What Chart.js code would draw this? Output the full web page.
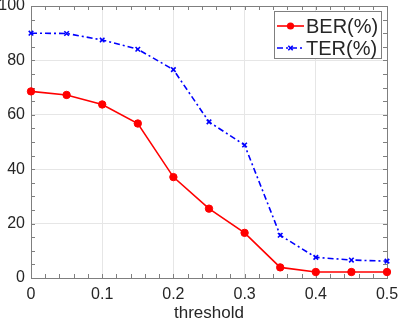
<!DOCTYPE html>
<html><head><meta charset="utf-8">
<script src="https://cdn.jsdelivr.net/npm/chart.js@4/dist/chart.umd.min.js"></script>
<style>html,body{margin:0;padding:0;background:#fff;}#wrap{width:399px;height:322px;}</style>
</head><body><div id="wrap"><canvas id="c" width="399" height="322"></canvas></div>
<script>
const thresholds = [0, 0.05, 0.1, 0.15, 0.2, 0.25, 0.3, 0.35, 0.4, 0.45, 0.5];
const berValues = [68.6, 67.3, 63.8, 56.8, 37.1, 25.5, 16.6, 3.9, 2.2, 2.2, 2.2];
const terValues = [90.0, 89.9, 87.5, 84.1, 76.6, 57.4, 48.9, 15.7, 7.6, 6.6, 6.2];
const seriesNames = ['BER(%)', 'TER(%)'];
const xTicks = [0, 0.1, 0.2, 0.3, 0.4, 0.5];
const yTicks = [0, 20, 40, 60, 80, 100];
const xLabel = 'threshold';

const FONT = '"Liberation Sans", Arial, sans-serif';
const TXT = '#262626';
const AX = '#7f7f7f';

const boxAndTicks = {
  id: 'boxAndTicks',
  beforeDatasetsDraw(chart) {
    const {ctx, chartArea: a, scales: {x, y}} = chart;
    ctx.save();
    ctx.strokeStyle = AX;
    ctx.lineWidth = 1;
    ctx.strokeRect(a.left + 0.5, a.top + 0.5, a.right - a.left, a.bottom - a.top);
    const L = 4;
    ctx.beginPath();
    for (let v = 0; v <= 100.001; v += 5) {
      const py = Math.round(y.getPixelForValue(v)) + 0.5;
      ctx.moveTo(a.left, py); ctx.lineTo(a.left + L, py);
      ctx.moveTo(a.right, py); ctx.lineTo(a.right - L, py);
    }
    for (let i = 0; i <= 25; i++) {
      const px = Math.round(x.getPixelForValue(i * 0.02)) + 0.5;
      ctx.moveTo(px, a.bottom); ctx.lineTo(px, a.bottom - L);
      ctx.moveTo(px, a.top); ctx.lineTo(px, a.top + L);
    }
    ctx.stroke();
    ctx.restore();
  },
  afterDatasetsDraw(chart) {
    const {ctx} = chart;
    const bx = 274.5, by = 11.5, bw = 107, bh = 47;
    ctx.save();
    ctx.fillStyle = '#fff';
    ctx.fillRect(bx, by, bw, bh);
    ctx.strokeStyle = AX;
    ctx.lineWidth = 1;
    ctx.strokeRect(bx, by, bw, bh);
    chart.data.datasets.forEach((ds, i) => {
      const cy = 26 + i * 22;
      ctx.strokeStyle = ds.borderColor;
      ctx.lineWidth = ds.borderWidth;
      ctx.setLineDash(ds.borderDash || []);
      ctx.beginPath(); ctx.moveTo(277, cy); ctx.lineTo(304, cy); ctx.stroke();
      ctx.setLineDash([]);
      ctx.fillStyle = ds.pointBackgroundColor;
      ctx.strokeStyle = ds.pointBorderColor;
      ctx.lineWidth = ds.pointBorderWidth;
      if (ds.pointStyle === 'circle') {
        ctx.beginPath(); ctx.arc(290.5, cy, 3.6, 0, Math.PI * 2); ctx.fill();
      } else {
        const r = 2.2;
        ctx.beginPath();
        ctx.moveTo(290.5 - r, cy - r); ctx.lineTo(290.5 + r, cy + r);
        ctx.moveTo(290.5 + r, cy - r); ctx.lineTo(290.5 - r, cy + r);
        ctx.stroke();
      }
      ctx.fillStyle = TXT;
      ctx.font = '20px ' + FONT;
      ctx.textBaseline = 'middle';
      ctx.textAlign = 'left';
      ctx.fillText(seriesNames[i], 306, cy + 1);
    });
    ctx.restore();
  }
};

new Chart(document.getElementById('c'), {
  type: 'line',
  data: {
    datasets: [
      {
        label: seriesNames[0],
        data: thresholds.map((t, i) => ({x: t, y: berValues[i]})),
        borderColor: '#ff0000', backgroundColor: '#ff0000',
        borderWidth: 1.6, pointStyle: 'circle', pointRadius: 3.7,
        pointBackgroundColor: '#ff0000', pointBorderColor: '#ff0000', pointBorderWidth: 1,
        tension: 0, clip: false
      },
      {
        label: seriesNames[1],
        data: thresholds.map((t, i) => ({x: t, y: terValues[i]})),
        borderColor: '#0000ff', backgroundColor: '#0000ff',
        borderWidth: 1.6, borderDash: [6, 3, 2, 3], pointStyle: 'crossRot', pointRadius: 3.2,
        pointBackgroundColor: '#0000ff', pointBorderColor: '#0000ff', pointBorderWidth: 1.6,
        tension: 0, clip: false
      }
    ]
  },
  options: {
    responsive: false, animation: false, devicePixelRatio: 1,
    layout: {padding: {left: 0, right: 12, top: 6, bottom: 0}},
    plugins: {legend: {display: false}, tooltip: {enabled: false}},
    scales: {
      x: {
        type: 'linear', min: 0, max: 0.5,
        afterBuildTicks(s) { s.ticks = xTicks.map(v => ({value: v})); },
        afterFit(s) { s.height = 44; s.paddingLeft = 0; s.paddingRight = 0; },
        grid: {color: '#e6e6e6', drawTicks: false},
        border: {display: false},
        ticks: {color: TXT, font: {family: FONT, size: 16}, padding: 7,
          callback: v => String(v), maxRotation: 0},
        title: {display: true, text: xLabel, color: TXT, font: {family: FONT, size: 17}, padding: {top: 0, bottom: -2}}
      },
      y: {
        min: 0, max: 100,
        afterBuildTicks(s) { s.ticks = yTicks.map(v => ({value: v})); },
        afterFit(s) { s.width = 31; s.paddingTop = 0; s.paddingBottom = 0; },
        grid: {color: '#e6e6e6', drawTicks: false},
        border: {display: false},
        ticks: {color: TXT, font: {family: FONT, size: 16}, padding: 6}
      }
    }
  },
  plugins: [boxAndTicks]
});
</script></body></html>
